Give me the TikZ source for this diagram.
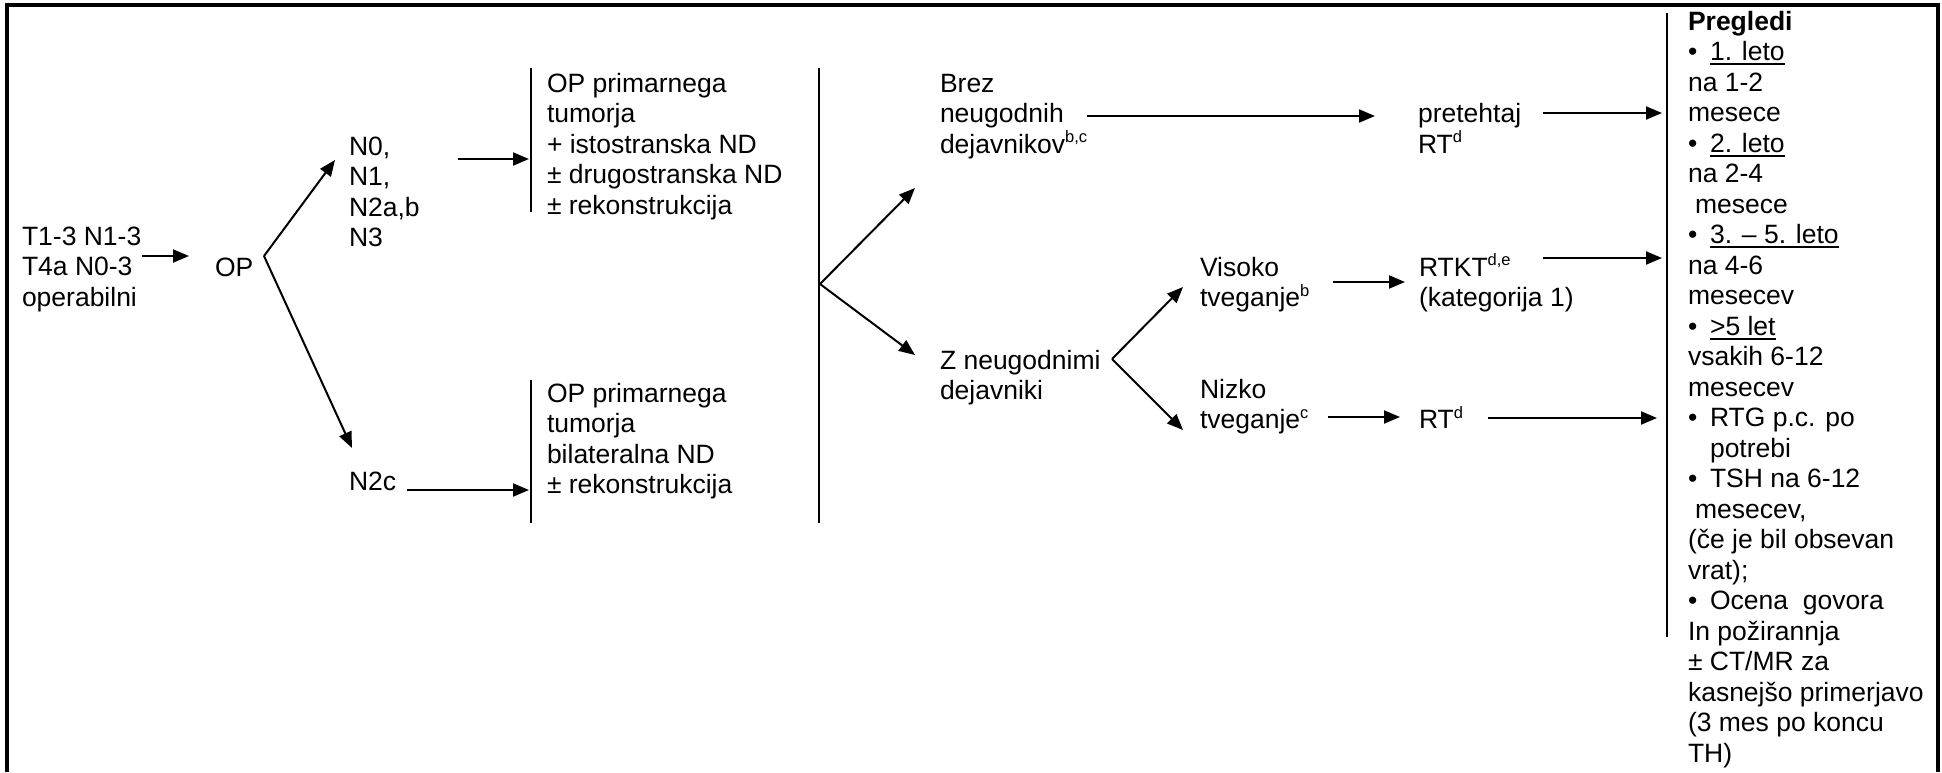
\documentclass[tikz,border=0pt]{standalone}
\usepackage{fontspec}
\setmainfont{Liberation Sans}
\usetikzlibrary{arrows.meta,calc}

% raised small index letters
\newcommand\supx[1]{\raisebox{10.5pt}[0pt][0pt]{\fontsize{16.5}{16.5}\selectfont #1}}
% underlined heading in the follow-up list
\newcommand\ulx[1]{\setbox0=\hbox{#1}\rlap{\rule[-4.5pt]{\wd0}{1.6pt}}\box0}
% stacked lines, baseline on the first line
\newcommand\lns[1]{\begin{tabular}[t]{@{}l@{}}#1\end{tabular}}
\newcommand\bul{\makebox[22pt][l]{•}}

\tikzset{
  txt/.style={anchor=base west, inner sep=0pt, outer sep=0pt,
              font=\fontsize{26.5}{30.5}\selectfont},
  conn/.style={line width=2pt, -{Triangle[length=16pt,width=13pt]}},
  barline/.style={line width=2pt},
  frame/.style={line width=3.5pt},
}

\begin{document}
\begin{tikzpicture}[x=1pt,y=-1pt]
\useasboundingbox (0,0) rectangle (1942,772);

% outer frame (open at the bottom)
\draw[frame] (7,772) -- (7,5) -- (1938,5) -- (1938,772);

% text nodes
\node[txt] (tin) at (22,245) {\lns{T1-3 N1-3\\T4a N0-3\\operabilni}};
\node[txt] (op) at (215,276) {OP};
\node[txt] (nA) at (349,155) {\lns{N0,\\N1,\\N2a,b\\N3}};
\node[txt] (nC) at (349,490) {N2c};
\node[txt] (sA) at (547,92) {\lns{OP primarnega\\tumorja\\+ istostranska ND\\± drugostranska ND\\± rekonstrukcija}};
\node[txt] (sC) at (547,402) {\lns{OP primarnega\\tumorja\\bilateralna ND\\± rekonstrukcija}};
\node[txt] (brez) at (940,92) {\lns{Brez\\neugodnih\\dejavnikov\supx{b,c}}};
\node[txt] (zneg) at (940,369) {\lns{Z neugodnimi\\dejavniki}};
\node[txt] (vis) at (1200,276) {\lns{Visoko\\tveganje\supx{b}}};
\node[txt] (niz) at (1200,398) {\lns{Nizko\\tveganje\supx{c}}};
\node[txt] (pret) at (1418,122.5) {\lns{pretehtaj\\RT\supx{d}}};
\node[txt] (rtkt) at (1419,276) {\lns{RTKT\supx{d,e}\\(kategorija 1)}};
\node[txt] (rt) at (1419,428.5) {RT\supx{d}};
\node[txt] (preg) at (1688,30) {\lns{%
  \textbf{Pregledi}\\
  \bul\ulx{1. leto}\\
  na 1-2\\
  mesece\\
  \bul\ulx{2. leto}\\
  na 2-4\\
  \hspace{7pt}mesece\\
  \bul\ulx{3. – 5. leto}\\
  na 4-6\\
  mesecev\\
  \bul\ulx{>5 let}\\
  vsakih 6-12\\
  mesecev\\
  \bul RTG p.c. po\\
  \hspace{22pt}potrebi\\
  \bul TSH na 6-12\\
  \hspace{7pt}mesecev,\\
  (če je bil obsevan\\
  vrat);\\
  \bul Ocena\ \ govora\\
  In požirannja\\
  ± CT/MR za\\
  kasnejšo primerjavo\\
  (3 mes po koncu\\
  TH)}};

% vertical bars
\coordinate (bAt) at (531,68);   \coordinate (bAb) at (531,212);
\coordinate (bCt) at (531,380);  \coordinate (bCb) at (531,523);
\coordinate (bMt) at (819,68);   \coordinate (bMb) at (819,523);
\coordinate (bRt) at (1667,13);  \coordinate (bRb) at (1667,637);
\draw[barline] (bAt) -- (bAb);
\draw[barline] (bCt) -- (bCb);
\draw[barline] (bMt) -- (bMb);
\draw[barline] (bRt) -- (bRb);

% connectors
\draw[conn] ($(tin.base west)+(120,11)$) -- ($(op.base west)+(-26,-20)$);

\coordinate (fork1) at ($(op.base west)+(49,-20)$);
\draw[conn] (fork1) -- ($(nA.base west)+(-14,5)$);
\draw[conn] (fork1) -- ($(nC.base west)+(3,-42)$);

\coordinate (s4) at ($(nA.base west)+(109,4)$);
\draw[conn, shorten >=2pt] (s4) -- (bAt |- s4);
\coordinate (s5) at ($(nC.base west)+(58,0)$);
\draw[conn, shorten >=2pt] (s5) -- (bCt |- s5);

\coordinate (fork2) at ($(bMt)+(1,216)$);
\draw[conn] (fork2) -- ($(brez.base west)+(-25,96)$);
\draw[conn] (fork2) -- ($(zneg.base west)+(-25,-14)$);

\draw[conn] ($(brez.base west)+(147,24)$) -- ($(pret.base west)+(-43,-6.5)$);

\coordinate (fork3) at ($(zneg.base west)+(172,-10)$);
\draw[conn] (fork3) -- ($(vis.base west)+(-17,11)$);
\draw[conn] (fork3) -- ($(niz.base west)+(-17,32)$);

\draw[conn] ($(vis.base west)+(133,6)$) -- ($(rtkt.base west)+(-14,6)$);
\draw[conn] ($(niz.base west)+(128,19)$) -- ($(rt.base west)+(-19,-11.5)$);

\coordinate (s11) at ($(pret.base west)+(125,-9.5)$);
\draw[conn, shorten >=5pt] (s11) -- (bRt |- s11);
\coordinate (s12) at ($(rtkt.base west)+(124,-18)$);
\draw[conn, shorten >=5pt] (s12) -- (bRt |- s12);
\coordinate (s13) at ($(rt.base west)+(69,-10.5)$);
\draw[conn, shorten >=10pt] (s13) -- (bRt |- s13);
\end{tikzpicture}
\end{document}
